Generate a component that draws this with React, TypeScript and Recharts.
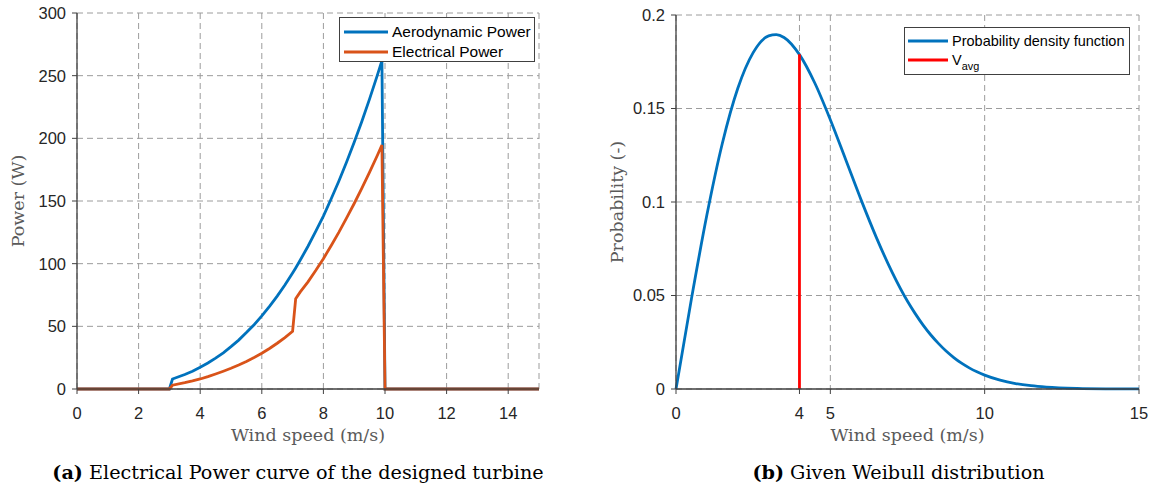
import { LineChart, Line, XAxis, YAxis, CartesianGrid, Legend, Label } from 'recharts';

// (a) power curve
const speeds = [0, 3, 3.1, 3.5, 3.75, 4, 4.25, 4.5, 4.75, 5, 5.25, 5.5, 5.75, 6, 6.25, 6.5, 6.75, 7, 7.1, 7.25, 7.5, 7.75, 8, 8.25, 8.5, 8.75, 9, 9.25, 9.5, 9.75, 9.9, 10, 15];
const aeroPower = [0, 0, 8, 11.6, 14.2, 17.3, 20.7, 24.6, 28.9, 33.8, 39, 45, 51.3, 58.3, 65.9, 74.1, 83, 92.6, 96.6, 102.9, 113.9, 125.7, 138, 151.6, 165.8, 180.9, 196.8, 213.7, 231.5, 250.2, 262, 0, 0];
const elecPower = [0, 0, 3, 5, 6.4, 8, 9.9, 12, 14.2, 16.5, 19.1, 22, 25.1, 28.5, 32.3, 36.5, 41, 46, 72, 77.5, 85.5, 94.5, 104, 114.3, 125, 136.3, 148, 160.3, 173, 186.3, 194.6, 0, 0];
const powerXTicks = [0, 2, 4, 6, 8, 10, 12, 14];
const powerYTicks = [0, 50, 100, 150, 200, 250, 300];

// (b) Weibull distribution
const pdfSpeeds = [0, 0.5, 1, 1.5, 2, 2.5, 3, 3.25, 3.5, 4, 4.5, 5, 5.5, 6, 6.5, 7, 7.5, 7.75, 8, 8.25, 8.5, 8.75, 9, 9.25, 9.5, 9.75, 10, 10.5, 11, 11.5, 12, 13, 14, 15];
const pdfValues = [0, 0.0482, 0.093, 0.1313, 0.1607, 0.1799, 0.1888, 0.1895, 0.188, 0.1788, 0.1635, 0.144, 0.1226, 0.101, 0.0807, 0.0625, 0.0469, 0.0403, 0.0343, 0.029, 0.0244, 0.0203, 0.0168, 0.0138, 0.0113, 0.0092, 0.0074, 0.0047, 0.0029, 0.00176, 0.00104, 0.00033, 0.00009, 0.00002];
const vavgSpeeds = [4, 4];
const vavgValues = [0, 0.179];
const pdfXTicks = [0, 4, 5, 10, 15];
const pdfYTicks = [0, 0.05, 0.1, 0.15, 0.2];

const powerData = speeds.map((v, i) => ({ v, aero: aeroPower[i], elec: elecPower[i] }));
const pdfData = pdfSpeeds.map((v, i) => ({ v, p: pdfValues[i] }));
const vavgData = vavgSpeeds.map((v, i) => ({ v, p: vavgValues[i] }));

const axisColor = '#404040';
const tickStyle = { fontFamily: '"Liberation Sans", Arial, sans-serif', fontSize: 16.5, fill: '#262626' };
const titleStyle = { fontFamily: '"DejaVu Serif", serif', fontSize: 17.5, fill: '#5a5a5a' };
const gridColor = '#9c9c9c';
const lineWidth = 2.8;

const xTitle = (text: string) => (props: any) => {
  const vb = props.viewBox;
  return (
    <text x={vb.x + vb.width / 2} y={vb.y + 52} textAnchor="middle" style={titleStyle}>
      {text}
    </text>
  );
};

const yTitle = (text: string, x: number) => (props: any) => {
  const vb = props.viewBox;
  const cy = vb.y + vb.height / 2;
  return (
    <text x={x} y={cy} transform={`rotate(-90 ${x} ${cy})`} textAnchor="middle" dominantBaseline="central" style={titleStyle}>
      {text}
    </text>
  );
};

type Box = { width: number; height: number; rows: number[]; sample: [number, number]; textX: number; fontSize: number };

const legendLabel = (value: string) =>
  value === 'V_avg' ? (
    <span>
      V<sub style={{ fontSize: '0.75em', verticalAlign: '-0.45em' }}>avg</sub>
    </span>
  ) : (
    value
  );

const legendContent = (box: Box) => (props: any) => (
  <div
    style={{
      position: 'relative',
      width: box.width,
      height: box.height,
      boxSizing: 'border-box',
      border: `1.3px solid ${axisColor}`,
      background: '#fff',
      fontFamily: '"Liberation Sans", Arial, sans-serif',
      fontSize: box.fontSize,
      color: '#000',
    }}
  >
    {(props.payload || []).map((entry: any, i: number) => (
      <div key={i} style={{ position: 'absolute', left: 0, top: box.rows[i] - 10, height: 20, width: box.width }}>
        <svg width={box.sample[1] + 2} height={20} style={{ position: 'absolute', left: 0, top: 0 }}>
          <line x1={box.sample[0]} x2={box.sample[1]} y1={10} y2={10} stroke={entry.color} strokeWidth={3} />
        </svg>
        <div style={{ position: 'absolute', left: box.textX, top: 0, lineHeight: '20px', whiteSpace: 'nowrap' }}>
          {legendLabel(entry.value)}
        </div>
      </div>
    ))}
  </div>
);

function PowerChart() {
  return (
    <LineChart width={580} height={491} data={powerData} margin={{ top: 13, right: 41, bottom: 72, left: 17 }}>
      <CartesianGrid strokeDasharray="6 4" stroke={gridColor} />
      <XAxis
        dataKey="v"
        type="number"
        domain={[0, 15]}
        ticks={powerXTicks}
        height={30}
        tick={tickStyle}
        tickSize={5}
        tickMargin={13}
        axisLine={{ stroke: axisColor, strokeWidth: 1.3 }}
        tickLine={{ stroke: axisColor }}
      >
        <Label content={xTitle('Wind speed (m/s)')} />
      </XAxis>
      <XAxis xAxisId="top" orientation="top" type="number" domain={[0, 15]} ticks={powerXTicks} height={0} tick={false} tickSize={5} axisLine={{ stroke: axisColor, strokeWidth: 1.3 }} tickLine={{ stroke: axisColor }} />
      <YAxis
        type="number"
        domain={[0, 300]}
        ticks={powerYTicks}
        width={60}
        tick={tickStyle}
        tickSize={5}
        tickMargin={6}
        axisLine={{ stroke: axisColor, strokeWidth: 1.3 }}
        tickLine={{ stroke: axisColor }}
      >
        <Label content={yTitle('Power (W)', 18)} />
      </YAxis>
      <YAxis yAxisId="right" orientation="right" type="number" domain={[0, 300]} ticks={powerYTicks} width={0} tick={false} tickSize={5} axisLine={{ stroke: axisColor, strokeWidth: 1.3 }} tickLine={{ stroke: axisColor }} />
      <Legend
        layout="vertical"
        align="center"
        verticalAlign="middle"
        wrapperStyle={{ left: 339, top: 17, width: 196, height: 45 }}
        content={legendContent({ width: 196, height: 45, rows: [14, 34], sample: [4, 48], textX: 52, fontSize: 15.5 })}
      />
      <Line name="Aerodynamic Power" dataKey="aero" type="linear" stroke="#0072BD" strokeWidth={lineWidth} dot={false} isAnimationActive={false} />
      <Line name="Electrical Power" dataKey="elec" type="linear" stroke="#D95319" strokeWidth={lineWidth} dot={false} isAnimationActive={false} />
    </LineChart>
  );
}

function PdfChart() {
  return (
    <LineChart width={577} height={491} margin={{ top: 15, right: 18, bottom: 72, left: 36 }}>
      <CartesianGrid strokeDasharray="6 4" stroke={gridColor} />
      <XAxis
        dataKey="v"
        type="number"
        domain={[0, 15]}
        ticks={pdfXTicks}
        height={30}
        tick={tickStyle}
        tickSize={5}
        tickMargin={13}
        axisLine={{ stroke: axisColor, strokeWidth: 1.3 }}
        tickLine={{ stroke: axisColor }}
      >
        <Label content={xTitle('Wind speed (m/s)')} />
      </XAxis>
      <XAxis xAxisId="top" orientation="top" type="number" domain={[0, 15]} ticks={pdfXTicks} height={0} tick={false} tickSize={5} axisLine={{ stroke: axisColor, strokeWidth: 1.3 }} tickLine={{ stroke: axisColor }} />
      <YAxis
        type="number"
        domain={[0, 0.2]}
        ticks={pdfYTicks}
        width={60}
        tick={tickStyle}
        tickSize={5}
        tickMargin={6}
        axisLine={{ stroke: axisColor, strokeWidth: 1.3 }}
        tickLine={{ stroke: axisColor }}
      >
        <Label content={yTitle('Probability (-)', 37)} />
      </YAxis>
      <YAxis yAxisId="right" orientation="right" type="number" domain={[0, 0.2]} ticks={pdfYTicks} width={0} tick={false} tickSize={5} axisLine={{ stroke: axisColor, strokeWidth: 1.3 }} tickLine={{ stroke: axisColor }} />
      <Legend
        layout="vertical"
        align="center"
        verticalAlign="middle"
        wrapperStyle={{ left: 324, top: 27, width: 226, height: 48 }}
        content={legendContent({ width: 226, height: 48, rows: [13, 32], sample: [3, 43], textX: 47, fontSize: 14.5 })}
      />
      <Line name="Probability density function" data={pdfData} dataKey="p" type="monotone" stroke="#0072BD" strokeWidth={lineWidth} dot={false} isAnimationActive={false} />
      <Line name="V_avg" data={vavgData} dataKey="p" type="linear" stroke="#FF0000" strokeWidth={lineWidth} dot={false} isAnimationActive={false} />
    </LineChart>
  );
}

const captionStyle = {
  position: 'absolute' as const,
  top: 463,
  fontFamily: '"DejaVu Serif", serif',
  fontSize: 19.2,
  lineHeight: '20px',
  color: '#000',
  textAlign: 'center' as const,
  whiteSpace: 'nowrap' as const,
};

export default function App() {
  return (
    <div style={{ position: 'absolute', left: 0, top: 0, width: 1157, height: 491, background: '#fff', overflow: 'hidden' }}>
      <div style={{ position: 'absolute', left: 0, top: 0 }}>
        <PowerChart />
      </div>
      <div style={{ position: 'absolute', left: 580, top: 0 }}>
        <PdfChart />
      </div>
      <div style={{ ...captionStyle, left: 0, width: 596 }}>
        <b>(a)</b> Electrical Power curve of the designed turbine
      </div>
      <div style={{ ...captionStyle, left: 600, width: 597 }}>
        <b>(b)</b> Given Weibull distribution
      </div>
    </div>
  );
}
